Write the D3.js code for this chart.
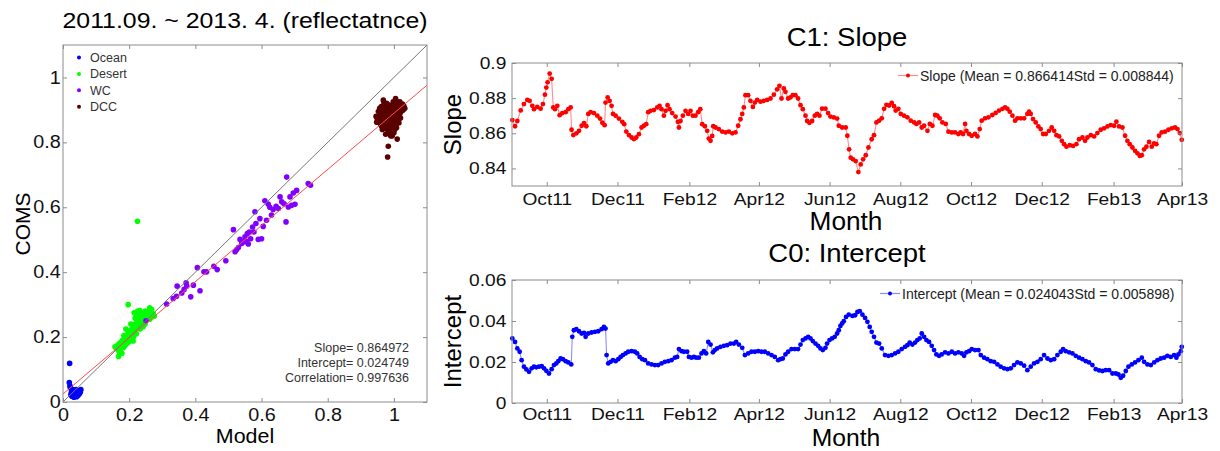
<!DOCTYPE html>
<html>
<head>
<meta charset="utf-8">
<script src="https://cdn.jsdelivr.net/npm/d3@7"></script>
<style>
  body { margin: 0; background: #fff; }
  svg { display: block; font-family: "Liberation Sans", Arial, sans-serif; }
  .tick text { fill: #111; }
</style>
</head>
<body>
<svg width="1220" height="451"></svg>
<script>
// ---- scatter data (Model, COMS reflectance) ----
const oceanPts = [[0.020,0.119],[0.019,0.060],[0.021,0.050],[0.022,0.045],[0.025,0.040],[0.028,0.035],[0.030,0.030],
  [0.032,0.025],[0.035,0.022],[0.038,0.020],[0.040,0.025],[0.042,0.030],[0.045,0.028],[0.048,0.032],[0.050,0.035],
  [0.052,0.030],[0.040,0.038],[0.035,0.033],[0.030,0.020],[0.027,0.018],[0.033,0.015],[0.045,0.020],[0.048,0.024],
  [0.025,0.028],[0.038,0.030],[0.043,0.035],[0.030,0.038],[0.036,0.027],[0.028,0.024],[0.050,0.027],[0.024,0.022],
  [0.041,0.016],[0.054,0.038]];
const desertPts = [[0.157,0.170],[0.162,0.165],[0.165,0.175],[0.168,0.158],[0.170,0.180],[0.172,0.170],[0.174,0.162],
  [0.175,0.185],[0.177,0.175],[0.178,0.150],[0.180,0.190],[0.182,0.178],[0.183,0.168],[0.185,0.195],[0.186,0.183],
  [0.188,0.175],[0.190,0.200],[0.191,0.188],[0.193,0.180],[0.195,0.205],[0.196,0.192],[0.197,0.215],[0.198,0.185],
  [0.200,0.210],[0.201,0.198],[0.203,0.220],[0.205,0.205],[0.206,0.190],[0.208,0.225],[0.210,0.212],[0.211,0.235],
  [0.213,0.200],[0.214,0.228],[0.215,0.275],[0.216,0.218],[0.218,0.240],[0.220,0.225],[0.221,0.270],[0.222,0.210],
  [0.224,0.245],[0.225,0.232],[0.226,0.280],[0.228,0.250],[0.230,0.238],[0.231,0.262],[0.233,0.225],[0.235,0.255],
  [0.236,0.272],[0.238,0.245],[0.240,0.260],[0.242,0.250],[0.244,0.275],[0.246,0.258],[0.248,0.240],[0.250,0.265],
  [0.252,0.252],[0.255,0.270],[0.258,0.260],[0.260,0.278],[0.262,0.255],[0.265,0.268],[0.268,0.285],[0.270,0.262],
  [0.273,0.272],[0.276,0.265],[0.168,0.140],[0.173,0.150],[0.197,0.300],[0.225,0.557],[0.190,0.225],[0.205,0.240],
  [0.218,0.258],[0.232,0.282],[0.248,0.280],[0.184,0.205],[0.212,0.188],[0.242,0.232],[0.262,0.290]];
const wcPts = [[0.251,0.250],[0.313,0.302],[0.333,0.319],[0.343,0.326],[0.345,0.357],[0.359,0.336],[0.366,0.347],
  [0.372,0.367],[0.374,0.357],[0.386,0.324],[0.394,0.360],[0.406,0.414],[0.414,0.343],[0.426,0.401],[0.434,0.401],
  [0.456,0.418],[0.466,0.408],[0.492,0.435],[0.515,0.531],[0.520,0.463],[0.525,0.470],[0.530,0.476],[0.535,0.501],
  [0.540,0.488],[0.545,0.494],[0.550,0.509],[0.555,0.494],[0.557,0.519],[0.560,0.487],[0.563,0.524],[0.567,0.503],
  [0.573,0.539],[0.577,0.524],[0.580,0.586],[0.583,0.550],[0.590,0.501],[0.595,0.565],[0.600,0.503],[0.605,0.541],
  [0.610,0.620],[0.615,0.560],[0.620,0.610],[0.625,0.600],[0.630,0.576],[0.635,0.593],[0.644,0.603],[0.651,0.596],
  [0.656,0.632],[0.661,0.617],[0.668,0.611],[0.674,0.555],[0.676,0.693],[0.681,0.601],[0.686,0.632],[0.691,0.606],
  [0.696,0.644],[0.701,0.609],[0.706,0.652],[0.741,0.673],[0.748,0.668]];
const dccPts = [[0.950,0.870],[0.955,0.880],[0.958,0.860],[0.960,0.890],[0.962,0.875],[0.963,0.850],[0.965,0.900],
  [0.966,0.865],[0.968,0.930],[0.970,0.885],[0.971,0.845],[0.972,0.910],[0.974,0.870],[0.975,0.895],[0.976,0.855],
  [0.978,0.920],[0.979,0.880],[0.980,0.840],[0.981,0.905],[0.982,0.865],[0.984,0.890],[0.985,0.830],[0.986,0.915],
  [0.987,0.875],[0.988,0.850],[0.990,0.900],[0.991,0.860],[0.992,0.885],[0.993,0.835],[0.994,0.910],[0.995,0.870],
  [0.996,0.895],[0.997,0.850],[0.998,0.925],[0.999,0.880],[1.000,0.860],[1.001,0.905],[1.002,0.840],[1.003,0.890],
  [1.004,0.870],[1.005,0.915],[1.006,0.855],[1.007,0.898],[1.008,0.878],[1.009,0.925],[1.010,0.862],[1.011,0.908],
  [1.012,0.885],[1.013,0.870],[1.014,0.915],[1.015,0.895],[1.016,0.878],[1.017,0.905],[1.018,0.888],[1.020,0.910],
  [1.022,0.895],[1.025,0.905],[1.028,0.900],[1.030,0.912],[0.983,0.788],[0.981,0.755],[1.010,0.810],[0.995,0.820],
  [0.975,0.825],[0.965,0.840],[0.953,0.895],[0.957,0.905],[0.960,0.855],[0.970,0.920],[0.990,0.820],[1.000,0.830],
  [1.020,0.875],[1.005,0.935],[0.985,0.860],[0.975,0.870],[0.995,0.880],[1.008,0.845],[0.962,0.910],[1.015,0.860],
  [0.978,0.900],[0.946,0.880],[0.948,0.862],[1.033,0.905],[1.026,0.918],[1.018,0.925]];
const fitSlope = 0.864972, fitIntercept = 0.024749, fitCorr = 0.997636;
const scatterTicks = [0, 0.2, 0.4, 0.6, 0.8, 1];

// ---- daily calibration coefficients: [days since 2011-09-01, value] ----
const slopeSeries = [[0.3,0.8675],[2.6,0.864],[4.6,0.867],[7.5,0.873],[10.3,0.8766],[13.2,0.879],[15.2,0.8785],[17.5,0.8756],
  [19.0,0.8737],[21.8,0.875],[24.7,0.874],[26.7,0.8766],[28.4,0.882],[29.6,0.886],[30.7,0.889],[32.5,0.894],[34.2,0.891],
  [35.6,0.8747],[37.1,0.8737],[39.1,0.8756],[41.1,0.8703],[43.4,0.8715],[46.3,0.872],[48.6,0.8737],[50.6,0.8747],
  [51.4,0.862],[52.9,0.859],[55.5,0.860],[57.8,0.8614],[60.1,0.8643],[62.1,0.8658],[64.1,0.864],[65.8,0.871],[67.8,0.872],
  [70.7,0.8715],[73.6,0.870],[75.9,0.8684],[77.9,0.866],[79.9,0.8646],[80.7,0.8775],[82.5,0.8804],[84.2,0.8785],
  [85.9,0.8756],[87.1,0.871],[89.4,0.870],[92.2,0.8684],[95.1,0.8665],[96.8,0.8652],[98.6,0.861],[100.9,0.859],
  [103.2,0.8576],[105.2,0.8567],[107.2,0.8576],[109.5,0.8595],[111.8,0.8633],[113.8,0.8643],[115.8,0.8652],[117.5,0.872],
  [119.5,0.8728],[122.4,0.8732],[125.3,0.8747],[127.3,0.8756],[129.0,0.8737],[131.0,0.870],[132.5,0.8728],[134.2,0.876],
  [135.9,0.8737],[138.2,0.8715],[141.1,0.8695],[143.1,0.8665],[144.0,0.8633],[145.4,0.867],[147.4,0.870],[149.7,0.8728],
  [152.0,0.871],[154.0,0.8728],[156.0,0.870],[158.3,0.870],[160.6,0.872],[162.4,0.8737],[164.1,0.8652],[166.4,0.864],
  [168.4,0.8614],[169.8,0.857],[171.3,0.8557],[172.7,0.8585],[173.6,0.864],[175.6,0.8633],[178.4,0.8624],[181.3,0.861],
  [184.2,0.8605],[187.1,0.861],[190.0,0.860],[192.8,0.8605],[195.1,0.8643],[197.1,0.868],[198.6,0.871],[200.0,0.8747],
  [201.4,0.8817],[203.7,0.8817],[205.7,0.8785],[207.8,0.875],[209.5,0.8775],[211.5,0.879],[214.4,0.878],[217.2,0.8785],
  [220.1,0.879],[223.0,0.8798],[225.9,0.882],[228.7,0.885],[230.7,0.887],[232.5,0.8798],[234.5,0.8855],[235.9,0.8836],
  [238.2,0.8798],[240.2,0.8804],[242.2,0.8817],[244.5,0.8817],[246.8,0.8798],[248.9,0.876],[250.9,0.8737],[253.2,0.870],
  [254.6,0.867],[256.6,0.866],[258.9,0.867],[261.2,0.870],[263.2,0.871],[265.2,0.870],[267.5,0.874],[270.4,0.874],
  [272.7,0.8715],[274.7,0.8695],[277.6,0.869],[280.5,0.8684],[281.9,0.8643],[284.8,0.8633],[287.9,0.8633],[289.3,0.8586],
  [290.8,0.8509],[292.2,0.8461],[294.2,0.8452],[296.5,0.8442],[298.8,0.8379],[300.8,0.8423],[302.9,0.8452],[305.2,0.8475],
  [307.5,0.8519],[310.3,0.8566],[312.3,0.8589],[314.4,0.8662],[316.7,0.8672],[319.0,0.8685],[321.0,0.8739],[323.0,0.8762],
  [325.3,0.8758],[327.6,0.8773],[329.6,0.8754],[331.0,0.8729],[333.3,0.8739],[335.4,0.871],[338.2,0.870],[341.1,0.8691],
  [344.0,0.8672],[346.9,0.8662],[348.9,0.8653],[351.2,0.8662],[353.5,0.8633],[355.5,0.8643],[358.4,0.8614],[360.4,0.8653],
  [362.7,0.8643],[365.0,0.8704],[367.0,0.870],[369.0,0.8685],[371.3,0.8662],[374.2,0.8653],[376.5,0.8609],[379.4,0.8605],
  [382.2,0.8605],[385.1,0.8596],[387.1,0.8605],[389.1,0.8596],[390.9,0.8653],[392.0,0.8614],[394.3,0.8596],[396.6,0.8586],
  [399.5,0.8596],[401.5,0.8582],[403.5,0.8624],[405.2,0.8672],[408.1,0.8685],[411.0,0.8691],[414.4,0.8704],[417.3,0.8716],
  [420.2,0.8729],[423.1,0.8739],[425.4,0.8748],[427.4,0.8739],[429.4,0.8723],[431.7,0.870],[434.0,0.8672],[436.0,0.8685],
  [438.9,0.8685],[441.8,0.8685],[444.6,0.871],[446.1,0.8723],[447.5,0.871],[449.5,0.8681],[451.8,0.8662],[454.1,0.8639],
  [456.1,0.8624],[458.2,0.8596],[460.5,0.8596],[463.3,0.8614],[465.6,0.8633],[467.7,0.8614],[469.7,0.8589],[472.0,0.8582],
  [474.3,0.8557],[476.3,0.8538],[478.3,0.8524],[481.2,0.8532],[484.0,0.8528],[486.9,0.8538],[489.2,0.8566],[492.1,0.8576],
  [494.4,0.8557],[496.4,0.8576],[499.3,0.8589],[502.2,0.8582],[505.0,0.8601],[507.9,0.862],[510.8,0.8628],[513.7,0.8639],
  [516.5,0.8647],[519.4,0.8643],[521.4,0.8666],[523.7,0.8639],[526.6,0.8633],[528.9,0.8586],[530.9,0.8557],[532.9,0.8538],
  [535.2,0.8519],[537.5,0.850],[539.6,0.8486],[541.6,0.8471],[543.3,0.8475],[545.3,0.8509],[547.3,0.8524],[549.6,0.8551],
  [551.9,0.8524],[553.9,0.8543],[555.9,0.8538],[558.2,0.8586],[560.5,0.8605],[563.4,0.8609],[566.3,0.862],[569.2,0.8628],
  [572.0,0.8633],[574.1,0.8624],[576.1,0.8601],[577.8,0.8563]];
const interceptSeries = [[0.3,0.0315],[2.6,0.0298],[4.6,0.0266],[6.6,0.025],[8.3,0.0209],[10.3,0.0177],[12.4,0.0164],
  [14.7,0.0152],[17.0,0.0169],[19.0,0.0177],[21.0,0.0174],[23.3,0.0177],[25.6,0.018],[27.6,0.0169],[29.6,0.0157],
  [31.9,0.0144],[34.2,0.0165],[36.2,0.0185],[38.2,0.0193],[39.9,0.0204],[41.9,0.0217],[43.9,0.0214],[46.3,0.0204],
  [48.6,0.0198],[51.1,0.0188],[52.0,0.0323],[53.4,0.0355],[55.5,0.036],[57.8,0.035],[60.1,0.0339],[62.1,0.0342],
  [63.5,0.0323],[65.8,0.0339],[68.7,0.0344],[71.6,0.0347],[74.4,0.035],[77.3,0.036],[79.3,0.0371],[80.7,0.0363],
  [81.6,0.0234],[83.0,0.0193],[85.1,0.0201],[87.1,0.0209],[89.4,0.0204],[91.7,0.0214],[93.7,0.0225],[95.7,0.0234],
  [98.0,0.0242],[100.3,0.025],[103.2,0.0253],[106.0,0.025],[108.0,0.0242],[110.1,0.0225],[112.4,0.0214],[114.7,0.0209],
  [117.5,0.0193],[120.4,0.0188],[123.3,0.0185],[126.1,0.0185],[129.0,0.0193],[131.9,0.0201],[134.8,0.0204],[137.6,0.0209],
  [140.5,0.0221],[142.5,0.0225],[144.0,0.0263],[146.3,0.0253],[148.3,0.025],[151.1,0.025],[152.6,0.0225],[154.9,0.0221],
  [156.9,0.0225],[158.9,0.0221],[161.2,0.0221],[163.5,0.0242],[165.5,0.0253],[167.5,0.0242],[169.3,0.0298],[171.3,0.0285],
  [173.3,0.0247],[175.0,0.0258],[177.0,0.0266],[179.9,0.0274],[182.8,0.0279],[185.6,0.0282],[188.5,0.029],[191.4,0.029],
  [193.4,0.0298],[195.7,0.0285],[198.6,0.0269],[200.9,0.0234],[203.7,0.0242],[206.6,0.025],[209.5,0.025],[212.4,0.0253],
  [215.2,0.025],[218.1,0.025],[221.0,0.0242],[223.9,0.0234],[226.7,0.0225],[229.6,0.0209],[231.6,0.0214],[233.6,0.0217],
  [235.9,0.0237],[238.2,0.025],[241.1,0.0263],[244.0,0.0263],[246.8,0.0263],[248.9,0.0285],[250.9,0.0307],[253.2,0.0315],
  [255.5,0.0323],[257.5,0.0315],[259.5,0.0302],[261.8,0.029],[264.1,0.0279],[266.1,0.0266],[268.1,0.0258],[270.4,0.0269],
  [271.8,0.029],[273.9,0.0307],[276.1,0.0315],[278.4,0.0323],[280.5,0.0339],[281.9,0.0355],[283.3,0.0376],[284.8,0.0388],
  [286.2,0.0399],[288.2,0.042],[290.5,0.0431],[293.7,0.0425],[296.0,0.0428],[298.0,0.0444],[300.0,0.0448],[302.3,0.0431],
  [304.6,0.0415],[306.6,0.0396],[308.6,0.0371],[310.3,0.0347],[312.3,0.0323],[314.4,0.0295],[316.7,0.029],[319.0,0.0266],
  [321.8,0.0234],[324.7,0.023],[327.6,0.0234],[330.5,0.0242],[333.3,0.025],[336.2,0.0263],[339.1,0.0274],[341.1,0.0282],
  [343.1,0.0295],[345.4,0.0285],[347.7,0.0295],[349.7,0.0307],[351.7,0.0315],[353.5,0.0339],[355.5,0.0323],[357.5,0.0307],
  [359.8,0.0298],[362.1,0.0279],[364.1,0.0258],[366.1,0.0237],[368.4,0.023],[370.7,0.0237],[373.6,0.0247],[376.5,0.0242],
  [379.4,0.025],[382.2,0.0242],[385.1,0.0247],[388.0,0.0242],[390.0,0.023],[392.0,0.0247],[394.3,0.0253],[396.6,0.0263],
  [399.5,0.0258],[402.4,0.0258],[404.4,0.0234],[407.3,0.0221],[410.1,0.0214],[413.0,0.0204],[415.9,0.0201],[418.8,0.0188],
  [421.6,0.0177],[424.5,0.0169],[427.4,0.0165],[430.3,0.0169],[433.1,0.0185],[436.0,0.0198],[438.9,0.0193],[441.8,0.0182],
  [444.6,0.016],[447.5,0.0177],[450.4,0.0193],[453.3,0.0201],[456.1,0.0214],[459.0,0.0234],[461.9,0.0217],[464.8,0.0209],
  [467.7,0.0214],[470.5,0.0234],[473.4,0.025],[475.4,0.0263],[477.7,0.0253],[480.6,0.0247],[483.5,0.0242],[486.3,0.023],
  [489.2,0.0221],[492.1,0.0214],[495.0,0.0204],[497.8,0.0198],[500.7,0.0185],[503.6,0.0165],[506.5,0.0159],[509.4,0.0156],
  [512.2,0.016],[515.1,0.016],[518.0,0.0144],[520.9,0.0144],[523.2,0.0139],[525.2,0.0123],[527.2,0.0133],[529.5,0.0156],
  [531.8,0.0177],[534.7,0.0188],[537.5,0.0198],[540.4,0.0209],[543.3,0.0221],[545.3,0.0201],[548.2,0.0188],[551.1,0.0185],
  [554.0,0.0198],[556.8,0.0209],[559.7,0.0217],[562.6,0.0221],[565.4,0.023],[568.3,0.0225],[571.2,0.0234],[573.2,0.0221],
  [574.9,0.0237],[577.0,0.0253],[577.8,0.0274]];
const monthTicks = ["Oct11","Dec11","Feb12","Apr12","Jun12","Aug12","Oct12","Dec12","Feb13","Apr13"];
const slopeTicks = [0.84, 0.86, 0.88, 0.9];
const interceptTicks = [0, 0.02, 0.04, 0.06];

const svg = d3.select("svg");
svg.append("rect").attr("width", 1220).attr("height", 451).attr("fill", "#fff");

const frameColor = "#8c8c8c";
const wide = 1.13; // the source figure's lettering is slightly wider than Arial

// text placed at (x,y), widened horizontally
function label(g, x, y, str, size, anchor = "middle", k = wide) {
  return g.append("text")
    .attr("transform", `translate(${x},${y}) scale(${k},1)`)
    .attr("text-anchor", anchor).attr("font-size", size).text(str);
}

// MATLAB-like boxed axes with inward ticks on all four sides
function boxAxes(g, x, y, xTicks, yTicks, xFmt, yFmt, fontSize, xPad, yPad) {
  const [x0, x1] = x.range();
  const [y0, y1] = y.range();
  const styleText = a => a.selectAll("text").attr("font-size", fontSize)
    .attr("font-family", "Liberation Sans, Arial, sans-serif").attr("transform", `scale(${wide},1)`);
  g.append("g").attr("transform", `translate(0,${y0})`)
    .call(d3.axisBottom(x).tickValues(xTicks).tickFormat(xFmt).tickSizeInner(-4).tickSizeOuter(0).tickPadding(xPad))
    .call(a => a.select(".domain").remove())
    .call(a => a.selectAll("line").attr("stroke", frameColor))
    .call(styleText);
  g.append("g").attr("transform", `translate(0,${y1})`)
    .call(d3.axisTop(x).tickValues(xTicks).tickFormat("").tickSizeInner(-4).tickSizeOuter(0))
    .call(a => a.select(".domain").remove())
    .call(a => a.selectAll("line").attr("stroke", frameColor));
  g.append("g").attr("transform", `translate(${x0},0)`)
    .call(d3.axisLeft(y).tickValues(yTicks).tickFormat(yFmt).tickSizeInner(-4).tickSizeOuter(0).tickPadding(yPad))
    .call(a => a.select(".domain").remove())
    .call(a => a.selectAll("line").attr("stroke", frameColor))
    .call(styleText);
  g.append("g").attr("transform", `translate(${x1},0)`)
    .call(d3.axisRight(y).tickValues(yTicks).tickFormat("").tickSizeInner(-4).tickSizeOuter(0))
    .call(a => a.select(".domain").remove())
    .call(a => a.selectAll("line").attr("stroke", frameColor));
  g.append("rect")
    .attr("x", x0).attr("y", y1).attr("width", x1 - x0).attr("height", y0 - y1)
    .attr("fill", "none").attr("stroke", frameColor).attr("stroke-width", 1);
}

// ================= left: scatter =================
const sx = d3.scaleLinear().domain([0, 1.1]).range([63, 427]);
const sy = d3.scaleLinear().domain([0, 1.1]).range([402, 45]);
const left = svg.append("g");

svg.append("defs").append("clipPath").attr("id", "clipScatter")
  .append("rect").attr("x", 63).attr("y", 45).attr("width", 364).attr("height", 357);

const groups = [
  { name: "Ocean", pts: oceanPts, color: "#0000ff" },
  { name: "Desert", pts: desertPts, color: "#00ff00" },
  { name: "WC", pts: wcPts, color: "#8000ff" },
  { name: "DCC", pts: dccPts, color: "#5a0000" }
];

groups.forEach(gr => {
  left.append("g").selectAll("circle").data(gr.pts).enter().append("circle")
    .attr("cx", d => sx(d[0])).attr("cy", d => sy(d[1])).attr("r", 2.8)
    .attr("fill", gr.color);
});

const lineG = left.append("g").attr("clip-path", "url(#clipScatter)");
lineG.append("line")
  .attr("x1", sx(0)).attr("y1", sy(0)).attr("x2", sx(1.1)).attr("y2", sy(1.1))
  .attr("stroke", "#777").attr("stroke-width", 1);
lineG.append("line")
  .attr("x1", sx(0)).attr("y1", sy(fitIntercept)).attr("x2", sx(1.1)).attr("y2", sy(fitIntercept + fitSlope * 1.1))
  .attr("stroke", "#ff4a4a").attr("stroke-width", 1);

boxAxes(left, sx, sy, scatterTicks, scatterTicks, d => d3.format("~g")(d), d => d3.format("~g")(d), 17.5, 7, 2);

const legend = left.append("g");
groups.forEach((gr, i) => {
  legend.append("circle").attr("cx", 79).attr("cy", 57.5 + i * 16.4).attr("r", 2).attr("fill", gr.color);
  legend.append("text").attr("x", 90).attr("y", 62 + i * 16.4).attr("font-size", 12.5).attr("fill", "#333").text(gr.name);
});

const stats = [`Slope= ${fitSlope}`, `Intercept= ${fitIntercept}`, `Correlation= ${fitCorr}`];
left.append("g").selectAll("text").data(stats).enter().append("text")
  .attr("x", 409).attr("y", (d, i) => 352 + i * 15).attr("text-anchor", "end")
  .attr("font-size", 12.5).attr("fill", "#333").text(d => d);

label(left, 245, 28, "2011.09. ~ 2013. 4. (reflectatnce)", 22);
label(left, 245, 443, "Model", 21, "middle", 1.02);
left.append("text").attr("transform", "translate(30,224) rotate(-90)").attr("text-anchor", "middle")
  .attr("font-size", 21).text("COMS");

// ================= right: time series =================
const start = new Date(2011, 8, 1);
const toDate = d => new Date(start.getTime() + d * 864e5);
const tx = d3.scaleTime().domain([start, new Date(2013, 3, 1)]).range([512, 1182]);
const parseMonth = d3.timeParse("%b%y");
const monthDates = monthTicks.map(parseMonth);

function seriesPanel(cfg) {
  const g = svg.append("g");
  const y = d3.scaleLinear().domain(cfg.domain).range(cfg.range);
  const pts = cfg.data.map(d => [toDate(d[0]), d[1]]);
  const line = d3.line().x(d => tx(d[0])).y(d => y(d[1]));

  g.append("path").datum(pts).attr("d", line).attr("fill", "none")
    .attr("stroke", cfg.lineColor).attr("stroke-width", 1.1);
  g.append("g").selectAll("circle").data(pts).enter().append("circle")
    .attr("cx", d => tx(d[0])).attr("cy", d => y(d[1])).attr("r", 2.4).attr("fill", cfg.color);

  boxAxes(g, tx, y, monthDates, cfg.ticks, d3.timeFormat("%b%y"), d => d3.format("~g")(d), 17, cfg.xPad, 5);

  // legend
  const ly = cfg.legendY;
  g.append("line").attr("x1", cfg.legendX - 22).attr("x2", cfg.legendX - 2).attr("y1", ly).attr("y2", ly)
    .attr("stroke", cfg.lineColor).attr("stroke-width", 1.2);
  g.append("circle").attr("cx", cfg.legendX - 12).attr("cy", ly).attr("r", 2).attr("fill", cfg.color);
  g.append("text").attr("x", cfg.legendX).attr("y", ly + 5).attr("font-size", 14).attr("fill", "#222")
    .text(cfg.legendText);

  label(g, 847, cfg.titleY, cfg.title, 25, "middle", 1.1);
  label(g, 846, cfg.monthY, "Month", cfg.monthSize, "middle", 1.05);
  g.append("text").attr("transform", `translate(461,${(cfg.range[0] + cfg.range[1]) / 2}) rotate(-90)`)
    .attr("text-anchor", "middle").attr("font-size", 24).text(cfg.yLabel);
}

seriesPanel({
  data: slopeSeries, domain: [0.83, 0.9], range: [186, 63], ticks: slopeTicks,
  color: "#ff0000", lineColor: "#ff8c8c", xPad: 7,
  legendX: 920, legendY: 75.5, legendText: "Slope (Mean = 0.866414Std = 0.008844)",
  title: "C1: Slope", titleY: 46, monthY: 230, monthSize: 25, yLabel: "Slope"
});

seriesPanel({
  data: interceptSeries, domain: [0, 0.06], range: [403, 280], ticks: interceptTicks,
  color: "#0000ff", lineColor: "#8c8cff", xPad: 5,
  legendX: 902, legendY: 293.5, legendText: "Intercept (Mean = 0.024043Std = 0.005898)",
  title: "C0: Intercept", titleY: 262, monthY: 445.5, monthSize: 23.5, yLabel: "Intercept"
});
</script>
</body>
</html>
